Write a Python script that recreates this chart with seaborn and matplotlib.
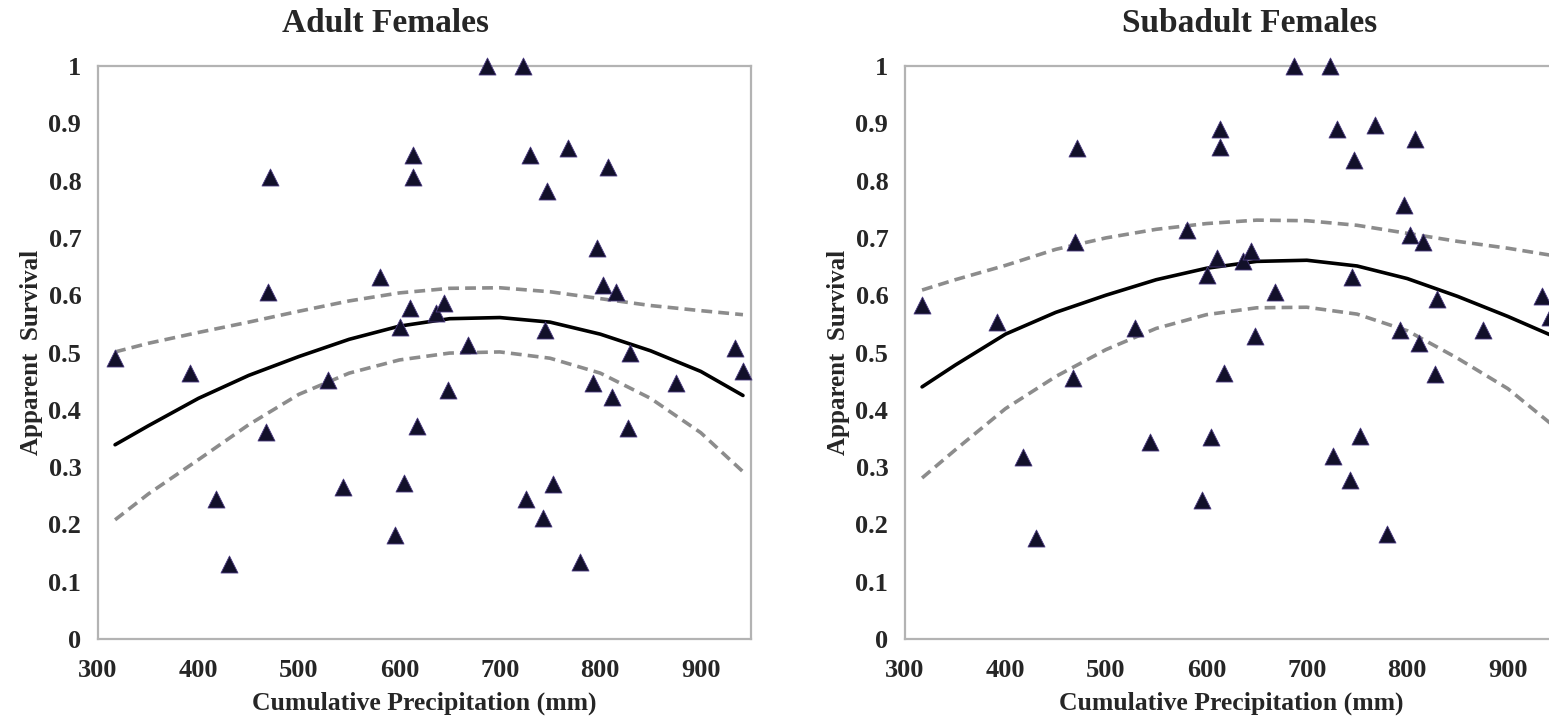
import numpy as np
import pandas as pd
import matplotlib
matplotlib.use("Agg")
import matplotlib.pyplot as plt
import seaborn as sns

# cumulative precipitation (mm) for each year, shared by both panels
precip = [317, 392, 417, 430, 467, 469, 471, 529, 544, 581, 596, 601, 605, 611,
          614, 614, 618, 636, 644, 648, 668, 687, 723.5, 726, 730, 743, 745, 747,
          753, 768, 780, 793, 797, 803, 808, 812, 816, 828, 830, 875, 934.5, 942]

adult_surv = [0.490, 0.464, 0.244, 0.131, 0.362, 0.606, 0.807, 0.452, 0.266, 0.632,
              0.181, 0.545, 0.272, 0.578, 0.845, 0.807, 0.371, 0.569, 0.586, 0.435,
              0.513, 1.000, 1.000, 0.244, 0.845, 0.211, 0.539, 0.781, 0.270, 0.857,
              0.135, 0.446, 0.682, 0.618, 0.824, 0.423, 0.606, 0.368, 0.499, 0.446,
              0.508, 0.467]

subadult_surv = [0.583, 0.554, 0.318, 0.176, 0.455, 0.693, 0.857, 0.543, 0.343, 0.714,
                 0.243, 0.635, 0.353, 0.665, 0.859, 0.890, 0.464, 0.659, 0.678, 0.529,
                 0.606, 1.000, 1.000, 0.319, 0.890, 0.277, 0.632, 0.836, 0.354, 0.897,
                 0.184, 0.539, 0.757, 0.705, 0.873, 0.516, 0.693, 0.462, 0.593, 0.539,
                 0.599, 0.562]

# fitted curve and 95% bounds
curve_x = [317, 350, 400, 450, 500, 550, 600, 650, 700, 750, 800, 850, 900, 942]

adult_fit = [0.339, 0.372, 0.420, 0.460, 0.493, 0.523, 0.546, 0.559, 0.561, 0.553,
             0.532, 0.503, 0.467, 0.425]
adult_upper = [0.501, 0.516, 0.535, 0.553, 0.572, 0.590, 0.604, 0.612, 0.613, 0.606,
               0.594, 0.582, 0.573, 0.566]
adult_lower = [0.208, 0.253, 0.313, 0.374, 0.427, 0.464, 0.487, 0.499, 0.501, 0.490,
               0.464, 0.420, 0.360, 0.292]

sub_fit = [0.440, 0.478, 0.532, 0.570, 0.600, 0.627, 0.647, 0.659, 0.661, 0.651,
           0.629, 0.598, 0.563, 0.531]
sub_upper = [0.609, 0.627, 0.652, 0.680, 0.700, 0.715, 0.725, 0.731, 0.730, 0.722,
             0.708, 0.694, 0.682, 0.670]
sub_lower = [0.281, 0.330, 0.402, 0.458, 0.505, 0.542, 0.566, 0.578, 0.579, 0.567,
             0.538, 0.490, 0.437, 0.377]

sns.set_style("white")
plt.rcParams['font.family'] = ['Liberation Serif', 'DejaVu Serif']
plt.rcParams['font.weight'] = 'bold'

fig = plt.figure(figsize=(15.49, 7.21), dpi=100)
W, H = 1549, 721
ax_w, ax_h = 653 / W, 573 / H
bottom = (H - 639) / H
ax1 = fig.add_axes([98 / W, bottom, ax_w, ax_h])
ax2 = fig.add_axes([905 / W, bottom, ax_w, ax_h])

panels = [
    (ax1, adult_surv, adult_fit, adult_upper, adult_lower, "Adult Females", 386),
    (ax2, subadult_surv, sub_fit, sub_upper, sub_lower, "Subadult Females", 1250),
]

spine_col = "#b3b3b3"
dash = (0, (3.0, 1.7))
for ax, surv, fit, up, lo, title, title_x in panels:
    pts = pd.DataFrame({"precip": precip, "surv": surv})
    curves = pd.DataFrame({"x": curve_x, "fit": fit, "up": up, "lo": lo})

    sns.lineplot(data=curves, x="x", y="up", ax=ax, color="#8c8c8c", lw=2.6,
                 linestyle=dash, zorder=2)
    sns.lineplot(data=curves, x="x", y="lo", ax=ax, color="#8c8c8c", lw=2.6,
                 linestyle=dash, zorder=2)
    sns.lineplot(data=curves, x="x", y="fit", ax=ax, color="black", lw=2.6, zorder=3)
    sns.scatterplot(data=pts, x="precip", y="surv", ax=ax, marker="^", s=150,
                    color="#12102a", edgecolor="#4a3a80", linewidth=0.6,
                    zorder=4, clip_on=False)

    ax.set_xlim(300, 950)
    ax.set_ylim(0, 1)
    ax.set_xticks(range(300, 1000, 100))
    ax.set_yticks(np.round(np.arange(0, 1.01, 0.1), 1))
    ax.set_yticklabels(["0", "0.1", "0.2", "0.3", "0.4", "0.5", "0.6", "0.7",
                        "0.8", "0.9", "1"])
    ax.tick_params(axis="x", direction="inout", length=11, width=1.3,
                   color=spine_col, labelsize=19, pad=9)
    ax.tick_params(axis="y", direction="out", length=4, width=1.3,
                   color=spine_col, labelsize=19, pad=8)
    for lab in ax.get_xticklabels() + ax.get_yticklabels():
        lab.set_fontweight("bold")
    for sp in ax.spines.values():
        sp.set_visible(True)
        sp.set_color(spine_col)
        sp.set_linewidth(1.6)

    ax.set_xlabel("Cumulative Precipitation (mm)", fontsize=18.5, fontweight="bold",
                  labelpad=7)
    ax.set_ylabel("Apparent  Survival", fontsize=18, fontweight="bold", labelpad=4)
    fig.text(title_x / W, 1 - 24 / H, title, ha="center", va="center",
             fontsize=24, fontweight="bold")

fig.savefig("out.png", dpi=100)
